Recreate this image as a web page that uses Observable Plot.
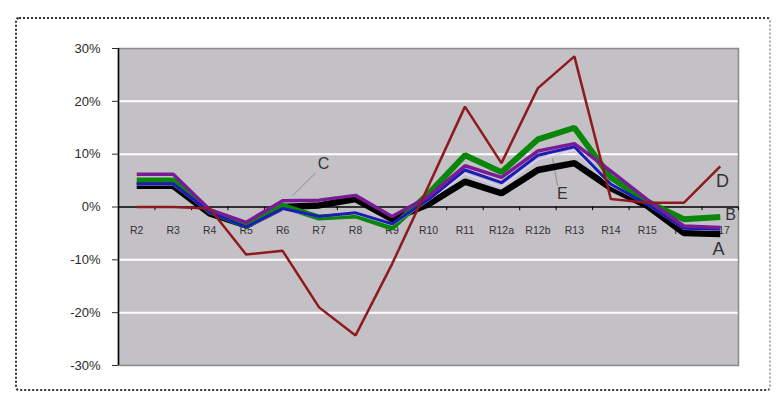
<!DOCTYPE html>
<html>
<head>
<meta charset="utf-8">
<script src="https://cdn.jsdelivr.net/npm/d3@7"></script>
<script src="https://cdn.jsdelivr.net/npm/@observablehq/plot@0.6"></script>
<style>
  html, body { margin: 0; padding: 0; background: #fff; }
  #wrap { position: relative; width: 778px; height: 402px; overflow: hidden; }
  #border { position: absolute; left: 15px; top: 17px; width: 752px; height: 370px;
            border: 2px dotted #333; border-right: 2px dotted #aaa; border-radius: 4px; }
  #chart { position: absolute; left: 0; top: 0; }
</style>
</head>
<body>
<div id="wrap"><div id="border"></div><div id="chart"></div></div>
<script>
const categories = ["R2","R3","R4","R5","R6","R7","R8","R9","R10","R11","R12a","R12b","R13","R14","R15","R16","R17"];
const yTicks = [-0.3, -0.2, -0.1, 0, 0.1, 0.2, 0.3];
const gridValues = [-0.2, -0.1, 0.1, 0.2];

// values in percent
const seriesA = [4.0, 4.0, -1.2, -3.5, 0.0, 0.3, 1.5, -2.3, 0.5, 4.8, 2.6, 7.0, 8.3, 3.6, 0.2, -4.9, -5.1];
const seriesB = [5.0, 5.0, -0.8, -3.6, 0.2, -2.0, -1.6, -3.9, 2.5, 9.8, 6.6, 12.8, 15.0, 5.6, 1.0, -2.3, -1.9];
const seriesC = [6.2, 6.2, -0.5, -2.9, 1.2, 1.3, 2.2, -1.8, 2.0, 7.8, 5.6, 10.6, 12.0, 6.8, 1.4, -3.6, -3.9];
const seriesE = [4.4, 4.4, -1.0, -3.8, -0.3, -1.8, -1.1, -3.2, 1.4, 7.0, 4.6, 9.8, 11.4, 4.3, 0.5, -4.0, -4.2];
const seriesF = [4.2, 4.2, -1.1, -3.9, -0.5, -1.9, -1.3, -3.4, 1.2, 6.3, 3.8, 9.0, 10.8, 4.0, 0.4, -4.2, -4.4];
const seriesD = [0.0, 0.0, -0.3, -9.0, -8.3, -19.0, -24.3, -10.8, 4.0, 19.0, 8.3, 22.5, 28.5, 1.5, 0.8, 0.8, 7.7];

const seriesList = [
  {name: "A", values: seriesA, color: "#000000", width: 6.5},
  {name: "B", values: seriesB, color: "#0a870a", width: 6},
  {name: "F", values: seriesF, color: "#d9d2f2", width: 1.6},
  {name: "E", values: seriesE, color: "#1c1cb4", width: 3},
  {name: "C", values: seriesC, color: "#7a1a96", width: 3.5},
  {name: "D", values: seriesD, color: "#8e1a1e", width: 2.5}
];

const rows = s => s.values.map((v, i) => ({i, v: v / 100}));

// annotation labels (index position, value)
const labels = [
  {t: "C", i: 5.12, v: 0.082, size: 16, weight: "normal"},
  {t: "E", i: 11.67, v: 0.025, size: 16, weight: "normal"},
  {t: "D", i: 16.06, v: 0.049, size: 18, weight: "normal"},
  {t: "A", i: 15.95, v: -0.079, size: 18, weight: "normal"},
  {t: "B", i: 16.28, v: -0.015, size: 16, weight: "bold"}
];
const leaders = [
  {i1: 4.90, v1: 0.064, i2: 4.27, v2: 0.021},
  {i1: 11.40, v1: 0.092, i2: 11.54, v2: 0.040}
];

const boundaries = d3.range(categories.length + 1).map(k => k - 0.5);
const fmt = d => Math.round(d * 100) + "%";

const chart = Plot.plot({
  width: 778,
  height: 402,
  marginLeft: 118,
  marginRight: 40,
  marginTop: 48,
  marginBottom: 37,
  style: {fontFamily: "'Liberation Sans', Arial, sans-serif", fontSize: "13px", color: "#2a2a2a", background: "transparent"},
  x: {domain: [-0.5, categories.length - 0.5], axis: null},
  y: {domain: [-0.3, 0.3], ticks: yTicks, tickFormat: fmt, tickSize: 6, tickPadding: 12, label: null},
  marks: [
    Plot.frame({fill: "#c3c1c5", stroke: null}),
    Plot.ruleY(gridValues, {stroke: "#ffffff", strokeWidth: 2}),
    Plot.frame({stroke: "#8a8a8a", strokeWidth: 1.5}),
    Plot.ruleX([-0.5], {stroke: "#000", strokeWidth: 1.5}),
    Plot.ruleY([0], {stroke: "#000", strokeWidth: 1.3}),
    Plot.ruleX(boundaries, {y1: 0, y2: -0.007, stroke: "#000", strokeWidth: 1}),
    Plot.text(categories, {x: (d, i) => i, y: () => 0, text: d => d, dy: 24, fontSize: 10.5, fill: "#333"}),
    Plot.link(leaders, {x1: "i1", y1: "v1", x2: "i2", y2: "v2", stroke: "#8d8d95", strokeWidth: 1}),
    ...seriesList.map(s => Plot.line(rows(s), {x: "i", y: "v", stroke: s.color, strokeWidth: s.width, strokeLinejoin: "miter", strokeLinecap: "butt"})),
    Plot.text(labels, {x: "i", y: "v", text: "t", fontSize: d => d.size, fontWeight: d => d.weight, fill: "#333"})
  ]
});
document.getElementById("chart").appendChild(chart);
</script>
</body>
</html>
